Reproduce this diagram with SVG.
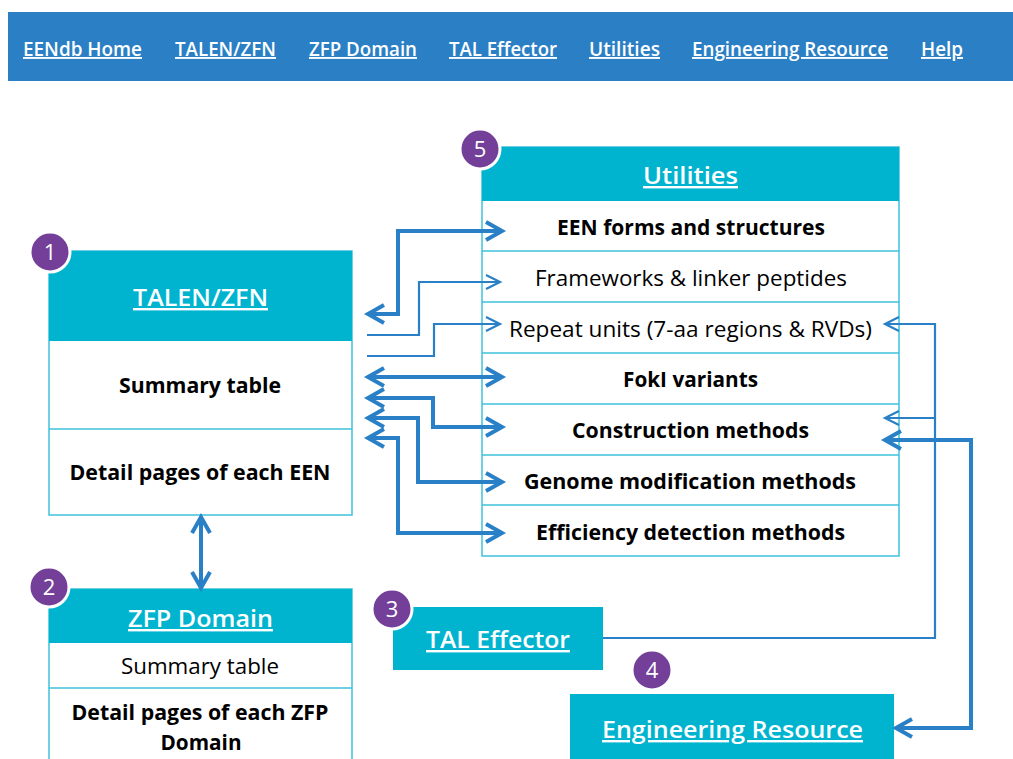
<svg xmlns="http://www.w3.org/2000/svg" width="1013" height="759" viewBox="0 0 1013 759">
<style>
text{font-family:"Open Sans","Noto Sans","Liberation Sans",sans-serif;}
.nav{fill:#fff;font-size:19px;font-weight:600;text-decoration:underline;}
.hd{fill:#fff;font-size:24px;font-weight:600;text-decoration:underline;text-anchor:middle;}
.b{fill:#000;font-size:21px;font-weight:700;text-anchor:middle;}
.n{fill:#000;font-size:21px;font-weight:400;text-anchor:middle;}
.head{fill:#00b4cf;}
.cell{fill:#fff;stroke:#3ec2da;stroke-width:1.5;}
.badge circle{fill:#733f98;stroke:#fff;stroke-width:3;}
.badge text{fill:#fff;font-size:22px;text-anchor:middle;}
.thick{fill:none;stroke:#2a80c6;stroke-width:4;}
.thin{fill:none;stroke:#2a80c6;stroke-width:2.2;}
</style>
<defs>
<marker id="ak" markerUnits="userSpaceOnUse" markerWidth="24" markerHeight="24" refX="19" refY="12" orient="auto-start-reverse">
<path d="M3,3 L19,12 L3,21" fill="none" stroke="#2a80c6" stroke-width="4"/>
</marker>
<marker id="an" markerUnits="userSpaceOnUse" markerWidth="20" markerHeight="20" refX="16" refY="10" orient="auto-start-reverse">
<path d="M2,3 L16,10 L2,17" fill="none" stroke="#2a80c6" stroke-width="2.2"/>
</marker>
</defs>
<rect width="1013" height="759" fill="#fff"/>
<g id="navbar">
<rect x="8" y="12" width="1005" height="69" fill="#2b80c5"/>
<text class="nav" x="23" y="56" textLength="119" lengthAdjust="spacingAndGlyphs">EENdb Home</text>
<text class="nav" x="175" y="56" textLength="101" lengthAdjust="spacingAndGlyphs">TALEN/ZFN</text>
<text class="nav" x="309" y="56" textLength="108" lengthAdjust="spacingAndGlyphs">ZFP Domain</text>
<text class="nav" x="449" y="56" textLength="108" lengthAdjust="spacingAndGlyphs">TAL Effector</text>
<text class="nav" x="589" y="56" textLength="71" lengthAdjust="spacingAndGlyphs">Utilities</text>
<text class="nav" x="692" y="56" textLength="196" lengthAdjust="spacingAndGlyphs">Engineering Resource</text>
<text class="nav" x="921" y="56" textLength="42" lengthAdjust="spacingAndGlyphs">Help</text>
</g>
<g id="talen-zfn">
<rect class="cell" x="49" y="251" width="303" height="264"/>
<rect class="head" x="49" y="251" width="303" height="90"/>
<line x1="49" y1="429" x2="352" y2="429" stroke="#3ec2da" stroke-width="1.5"/>
<text class="hd" x="200.5" y="306" textLength="135" lengthAdjust="spacingAndGlyphs">TALEN/ZFN</text>
<text class="b" x="200" y="393" textLength="162" lengthAdjust="spacingAndGlyphs">Summary table</text>
<text class="b" x="200" y="480" textLength="261" lengthAdjust="spacingAndGlyphs">Detail pages of each EEN</text>
</g>
<g id="zfp-domain">
<rect class="cell" x="49" y="589" width="303" height="180"/>
<rect class="head" x="49" y="589" width="303" height="54"/>
<line x1="49" y1="688" x2="352" y2="688" stroke="#3ec2da" stroke-width="1.5"/>
<text class="hd" x="200.5" y="627" textLength="145" lengthAdjust="spacingAndGlyphs">ZFP Domain</text>
<text class="n" x="200" y="674" textLength="158" lengthAdjust="spacingAndGlyphs">Summary table</text>
<text class="b" x="200" y="720" textLength="257" lengthAdjust="spacingAndGlyphs">Detail pages of each ZFP</text>
<text class="b" x="201" y="750" textLength="81" lengthAdjust="spacingAndGlyphs">Domain</text>
</g>
<g id="utilities">
<rect class="cell" x="482" y="147" width="417" height="409"/>
<rect class="head" x="482" y="147" width="417" height="54"/>
<g stroke="#3ec2da" stroke-width="1.5">
<line x1="482" y1="251" x2="899" y2="251"/>
<line x1="482" y1="302" x2="899" y2="302"/>
<line x1="482" y1="353" x2="899" y2="353"/>
<line x1="482" y1="404" x2="899" y2="404"/>
<line x1="482" y1="455" x2="899" y2="455"/>
<line x1="482" y1="505" x2="899" y2="505"/>
</g>
<text class="hd" x="690.5" y="184" textLength="95" lengthAdjust="spacingAndGlyphs">Utilities</text>
<text class="b" x="691" y="235" textLength="268" lengthAdjust="spacingAndGlyphs">EEN forms and structures</text>
<text class="n" x="691" y="286" textLength="312" lengthAdjust="spacingAndGlyphs">Frameworks &amp; linker peptides</text>
<text class="n" x="690.5" y="337" textLength="363" lengthAdjust="spacingAndGlyphs">Repeat units (7-aa regions &amp; RVDs)</text>
<text class="b" x="690.5" y="387" textLength="135" lengthAdjust="spacingAndGlyphs">FokI variants</text>
<text class="b" x="690.5" y="438" textLength="237" lengthAdjust="spacingAndGlyphs">Construction methods</text>
<text class="b" x="690" y="489" textLength="332" lengthAdjust="spacingAndGlyphs">Genome modification methods</text>
<text class="b" x="690.5" y="540" textLength="309" lengthAdjust="spacingAndGlyphs">Efficiency detection methods</text>
</g>
<g id="tal-effector">
<rect class="head" x="393" y="607" width="210" height="63"/>
<text class="hd" x="498" y="648" textLength="144" lengthAdjust="spacingAndGlyphs">TAL Effector</text>
</g>
<g id="engineering-resource">
<rect class="head" x="570" y="694" width="324" height="70"/>
<text class="hd" x="732.5" y="738" textLength="261" lengthAdjust="spacingAndGlyphs">Engineering Resource</text>
</g>
<g id="connectors">
<path class="thick" d="M368,314 H398 V231 H502" marker-start="url(#ak)" marker-end="url(#ak)"/>
<path class="thin" d="M367,335 H419 V282 H500" marker-end="url(#an)"/>
<path class="thin" d="M367,356 H434 V324 H500" marker-end="url(#an)"/>
<path class="thick" d="M368,377 H502" marker-start="url(#ak)" marker-end="url(#ak)"/>
<path class="thick" d="M368,398 H433 V427 H502" marker-start="url(#ak)" marker-end="url(#ak)"/>
<path class="thick" d="M368,418 H418 V482 H502" marker-start="url(#ak)" marker-end="url(#ak)"/>
<path class="thick" d="M368,438 H398 V533 H502" marker-start="url(#ak)" marker-end="url(#ak)"/>
<path class="thick" d="M201,517 V588" marker-start="url(#ak)" marker-end="url(#ak)"/>
<path class="thin" d="M603,638 H935 V324 H885" marker-end="url(#an)"/>
<path class="thin" d="M935,418 H885" marker-end="url(#an)"/>
<path class="thick" d="M896,728 H971 V440 H885" marker-start="url(#ak)" marker-end="url(#ak)"/>
</g>
<g id="badges">
<g class="badge"><circle cx="50" cy="252" r="20"/><text x="50" y="260">1</text></g>
<g class="badge"><circle cx="49" cy="587" r="20"/><text x="49" y="595">2</text></g>
<g class="badge"><circle cx="392" cy="609" r="20"/><text x="392" y="617">3</text></g>
<g class="badge"><circle cx="652" cy="670" r="20"/><text x="652" y="678">4</text></g>
<g class="badge"><circle cx="480" cy="149" r="20"/><text x="480" y="157">5</text></g>
</g>
</svg>
